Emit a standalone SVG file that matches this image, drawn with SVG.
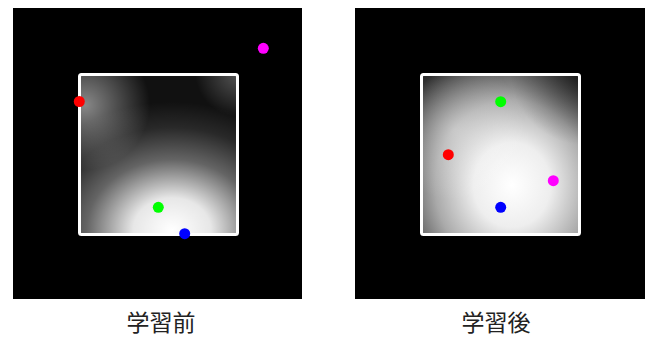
<svg xmlns="http://www.w3.org/2000/svg" width="649" height="338" viewBox="0 0 649 338">
<style>
.bg{fill:#000}
.frame{fill:none;stroke:#fff;stroke-width:3}
.lbl{font-family:"Noto Sans CJK JP","Noto Sans CJK SC",sans-serif;font-size:23px;fill:#222;text-anchor:middle}
</style>
<defs>
<clipPath id="cl"><rect x="79.5" y="74.5" width="158" height="160"/></clipPath>
<clipPath id="cr"><rect x="421.5" y="74.5" width="158" height="160"/></clipPath>
<radialGradient id="lw" gradientUnits="userSpaceOnUse" cx="172" cy="230" r="135" gradientTransform="translate(172 230) scale(1.15 0.95) translate(-172 -230)">
<stop offset="0" stop-color="#fff" stop-opacity="1"/>
<stop offset="0.25" stop-color="#fff" stop-opacity="0.9"/>
<stop offset="0.55" stop-color="#fff" stop-opacity="0.35"/>
<stop offset="0.8" stop-color="#fff" stop-opacity="0.1"/>
<stop offset="1" stop-color="#fff" stop-opacity="0"/>
</radialGradient>
<radialGradient id="lg" gradientUnits="userSpaceOnUse" cx="85" cy="105" r="65">
<stop offset="0" stop-color="#fff" stop-opacity="0.5"/>
<stop offset="0.6" stop-color="#fff" stop-opacity="0.2"/>
<stop offset="1" stop-color="#fff" stop-opacity="0"/>
</radialGradient>
<radialGradient id="lt" gradientUnits="userSpaceOnUse" cx="240" cy="72" r="45">
<stop offset="0" stop-color="#fff" stop-opacity="0.3"/>
<stop offset="1" stop-color="#fff" stop-opacity="0"/>
</radialGradient>
<radialGradient id="rw" gradientUnits="userSpaceOnUse" cx="512" cy="185" r="128" gradientTransform="translate(512 185) scale(1 1.1) translate(-512 -185)">
<stop offset="0" stop-color="#fff"/>
<stop offset="0.3" stop-color="#eee"/>
<stop offset="0.6" stop-color="#aaa"/>
<stop offset="0.85" stop-color="#555"/>
<stop offset="1" stop-color="#222"/>
</radialGradient>
<radialGradient id="rl" gradientUnits="userSpaceOnUse" cx="455" cy="130" r="70">
<stop offset="0" stop-color="#fff" stop-opacity="0.35"/>
<stop offset="1" stop-color="#fff" stop-opacity="0"/>
</radialGradient>
<radialGradient id="rd" gradientUnits="userSpaceOnUse" cx="585" cy="70" r="75">
<stop offset="0" stop-color="#000" stop-opacity="0.6"/>
<stop offset="1" stop-color="#000" stop-opacity="0"/>
</radialGradient>
</defs>
<rect x="0" y="0" width="649" height="338" fill="#fff"/>
<g id="before">
<rect class="bg" x="13" y="8" width="289" height="291"/>
<g clip-path="url(#cl)">
<rect x="79.5" y="74.5" width="158" height="160" fill="#111"/>
<rect x="79.5" y="74.5" width="158" height="160" fill="url(#lg)"/>
<rect x="79.5" y="74.5" width="158" height="160" fill="url(#lt)"/>
<rect x="79.5" y="74.5" width="158" height="160" fill="url(#lw)"/>
</g>
<rect class="frame" x="79.5" y="74.5" width="158" height="160" rx="2"/>
<circle cx="79.3" cy="101.5" r="5.5" fill="#f00"/>
<circle cx="158.3" cy="207.3" r="5.5" fill="#0f0"/>
<circle cx="184.7" cy="233.7" r="5.5" fill="#00f"/>
<circle cx="263.3" cy="48.3" r="5.5" fill="#f0f"/>
<text class="lbl" x="161" y="331">学習前</text>
</g>
<g id="after">
<rect class="bg" x="355" y="8" width="290" height="291"/>
<g clip-path="url(#cr)">
<rect x="421.5" y="74.5" width="158" height="160" fill="url(#rw)"/>
<rect x="421.5" y="74.5" width="158" height="160" fill="url(#rl)"/>
<rect x="421.5" y="74.5" width="158" height="160" fill="url(#rd)"/>
</g>
<rect class="frame" x="421.5" y="74.5" width="158" height="160" rx="2"/>
<circle cx="500.7" cy="101.7" r="5.5" fill="#0f0"/>
<circle cx="448.3" cy="154.7" r="5.5" fill="#f00"/>
<circle cx="553.3" cy="180.7" r="5.5" fill="#f0f"/>
<circle cx="500.7" cy="207.3" r="5.5" fill="#00f"/>
<text class="lbl" x="496" y="331">学習後</text>
</g>
</svg>
